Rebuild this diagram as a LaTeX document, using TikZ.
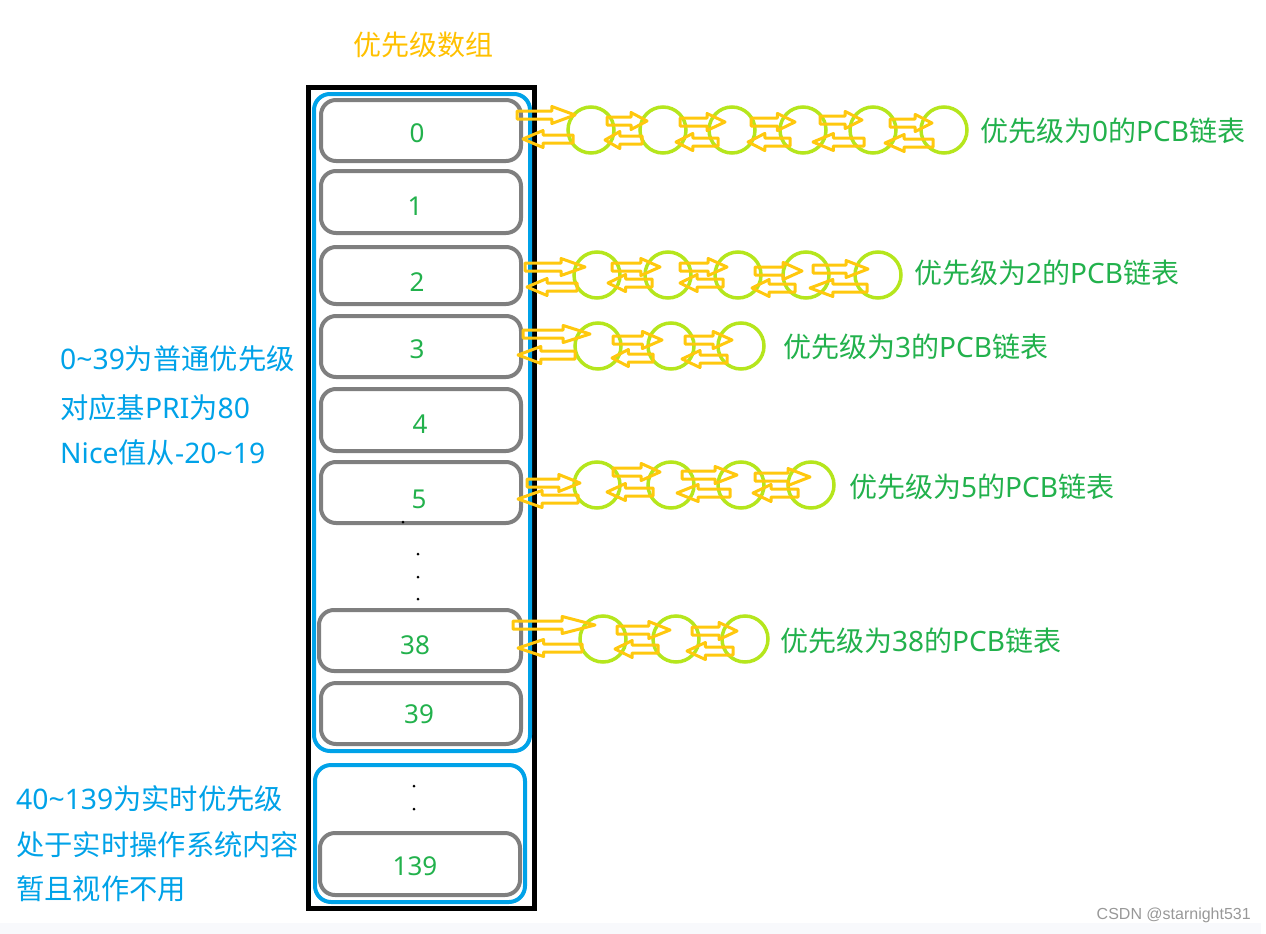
\documentclass[tikz,border=0pt]{standalone}
\usepackage{fontspec}
\setmainfont{Noto Sans CJK SC}
\newfontfamily\lat{Noto Sans}
\newfontfamily\wmfont{Liberation Sans}
\definecolor{ttl}{RGB}{255,192,0}
\definecolor{arr}{RGB}{255,200,14}
\definecolor{lime}{RGB}{181,230,29}
\definecolor{grn}{RGB}{34,177,76}
\definecolor{blu}{RGB}{0,162,232}
\definecolor{gry}{RGB}{127,127,127}
\definecolor{band}{RGB}{248,249,252}
\newcommand\blkarrow[3]{%
  \pgfmathsetmacro\bkd{(#2)-(#1)}%
  \pgfmathsetmacro\bkh{(#2)-0.4*\bkd}%
  \draw[blockarr] (#1,#3-4) -- (\bkh,#3-4) -- (\bkh,#3-8.5) -- (#2,#3) -- (\bkh,#3+8.5) -- (\bkh,#3+4) -- (#1,#3+4) -- cycle;}
\newcommand\tl{{\lat\char"7E}}
\begin{document}
\begin{tikzpicture}[x=1pt,y=-1pt,
  greybox/.style={draw=gry,line width=4pt,rounded corners=15pt,minimum width=200pt,inner sep=0pt},
  numtxt/.style={text=grn,font=\lat\fontsize{26}{26}\selectfont,inner sep=0pt},
  lbl/.style={text=grn,font=\fontsize{28}{28}\selectfont,inner sep=0pt,anchor=west},
  note/.style={text=blu,font=\fontsize{28.3}{28.3}\selectfont,inner sep=0pt,anchor=west},
  ring/.style={circle,draw=lime,line width=3.5pt,minimum size=46pt,inner sep=0pt},
  blockarr/.style={draw=arr,line width=3pt,line join=round},
  dot/.style={circle,fill=black,inner sep=0pt,minimum size=3pt}]
\useasboundingbox (0,0) rectangle (1266,934);
\fill[band] (0,923) rectangle (1261,934);
% title
\node[text=ttl,font=\fontsize{28}{28}\selectfont,inner sep=0pt] (title) at (423,45) {优先级数组};
% containers
\draw[line width=5pt] (308.5,87.5) rectangle (534.5,908);
\draw[blu,line width=4pt,rounded corners=16pt] (314,94) rectangle (530,751);
\draw[blu,line width=4pt,rounded corners=16pt] (315,765) rectangle (525,902);
% boxes
\node[greybox,minimum height=61pt] (b0) at (421,130.5) {};
\node[greybox,minimum height=62pt] (b1) at (421,202) {};
\node[greybox,minimum height=57pt] (b2) at (421,275.5) {};
\node[greybox,minimum height=61pt] (b3) at (421,346.5) {};
\node[greybox,minimum height=62pt] (b4) at (421,420) {};
\node[greybox,minimum height=61pt] (b5) at (421,492.5) {};
\node[greybox,minimum height=61pt,minimum width=202pt] (b38) at (420,640.5) {};
\node[greybox,minimum height=61pt] (b39) at (421,713.5) {};
\node[greybox,minimum height=62pt] (b139) at (420,864) {};
\node[numtxt] (n0) at (417,133) {0};
\node[numtxt] (n1) at (415,206) {1};
\node[numtxt] (n2) at (417,282) {2};
\node[numtxt] (n3) at (417,349) {3};
\node[numtxt] (n4) at (420,424) {4};
\node[numtxt] (n5) at (419,499) {5};
\node[numtxt] (n38) at (415,645) {38};
\node[numtxt] (n39) at (419,714) {39};
\node[numtxt] (n139) at (415,866) {139};
% dots
\node[dot] (d1) at (403,522) {};
\node[dot] (d2) at (418,554) {};
\node[dot] (d3) at (418,577) {};
\node[dot] (d4) at (418,599) {};
\node[dot] (d5) at (414,786) {};
\node[dot] (d6) at (414,809) {};
% row 0 chain
\foreach \cx [count=\i] in {591,663,732,803,873,944} \node[ring] (r0c\i) at (\cx,130) {};
\blkarrow{517}{575}{115}\blkarrow{573}{523}{139}
\blkarrow{607}{647}{121}\blkarrow{642}{605}{140}
\blkarrow{680}{725}{122}\blkarrow{718}{676}{142}
\blkarrow{751}{795}{122}\blkarrow{790}{748}{142}
\blkarrow{820}{862}{120}\blkarrow{864}{813}{142}
\blkarrow{890}{932}{123}\blkarrow{933}{885}{143}
\node[lbl] (l0) at (980,131) {优先级为{\lat 0}的{\lat PCB}链表};
% row 2 chain
\foreach \cx [count=\i] in {597,668,738,806,878} \node[ring] (r2c\i) at (\cx,275) {};
\blkarrow{525}{585}{267}\blkarrow{577}{527}{287}
\blkarrow{612}{660}{267}\blkarrow{652}{608}{283}
\blkarrow{680}{727}{267}\blkarrow{723}{680}{283}
\blkarrow{755}{802}{271}\blkarrow{795}{752}{288}
\blkarrow{813}{868}{269}\blkarrow{867}{810}{288}
\node[lbl] (l2) at (914,273) {优先级为{\lat 2}的{\lat PCB}链表};
% row 3 chain
\foreach \cx [count=\i] in {598,671,741} \node[ring] (r3c\i) at (\cx,346) {};
\blkarrow{523}{590}{334}\blkarrow{575}{518}{355}
\blkarrow{613}{662}{340}\blkarrow{653}{612}{358}
\blkarrow{685}{732}{340}\blkarrow{727}{682}{359}
\node[lbl] (l3) at (783,347) {优先级为{\lat 3}的{\lat PCB}链表};
% row 5 chain
\foreach \cx [count=\i] in {597,671,741,811} \node[ring] (r5c\i) at (\cx,485) {};
\blkarrow{527}{580}{483}\blkarrow{578}{518}{499}
\blkarrow{613}{660}{472}\blkarrow{653}{607}{492}
\blkarrow{682}{737}{475}\blkarrow{730}{677}{493}
\blkarrow{755}{810}{477}\blkarrow{798}{753}{493}
\node[lbl] (l5) at (849,487) {优先级为{\lat 5}的{\lat PCB}链表};
% row 38 chain
\foreach \cx [count=\i] in {603,676,745} \node[ring] (r38c\i) at (\cx,639) {};
\blkarrow{513}{595}{625}\blkarrow{582}{518}{648}
\blkarrow{617}{670}{630}\blkarrow{658}{615}{649}
\blkarrow{692}{737}{631}\blkarrow{733}{687}{651}
\node[lbl] (l38) at (780,641) {优先级为{\lat 38}的{\lat PCB}链表};
% notes
\node[note] (t1) at (60,359) {{\lat 0\tl39}为普通优先级};
\node[note] (t2) at (60,408) {对应基{\lat PRI}为{\lat 80}};
\node[note] (t3) at (60,453) {{\lat Nice}值从{\lat -20\tl19}};
\node[note] (t4) at (16,799) {{\lat 40\tl139}为实时优先级};
\node[note] (t5) at (16,845) {处于实时操作系统内容};
\node[note] (t6) at (16,889) {暂且视作不用};
% watermark
\node[text=gry!80,font=\wmfont\fontsize{16}{16}\selectfont,inner sep=0pt,anchor=east] (wm) at (1251,915) {CSDN @starnight531};
\end{tikzpicture}
\end{document}
